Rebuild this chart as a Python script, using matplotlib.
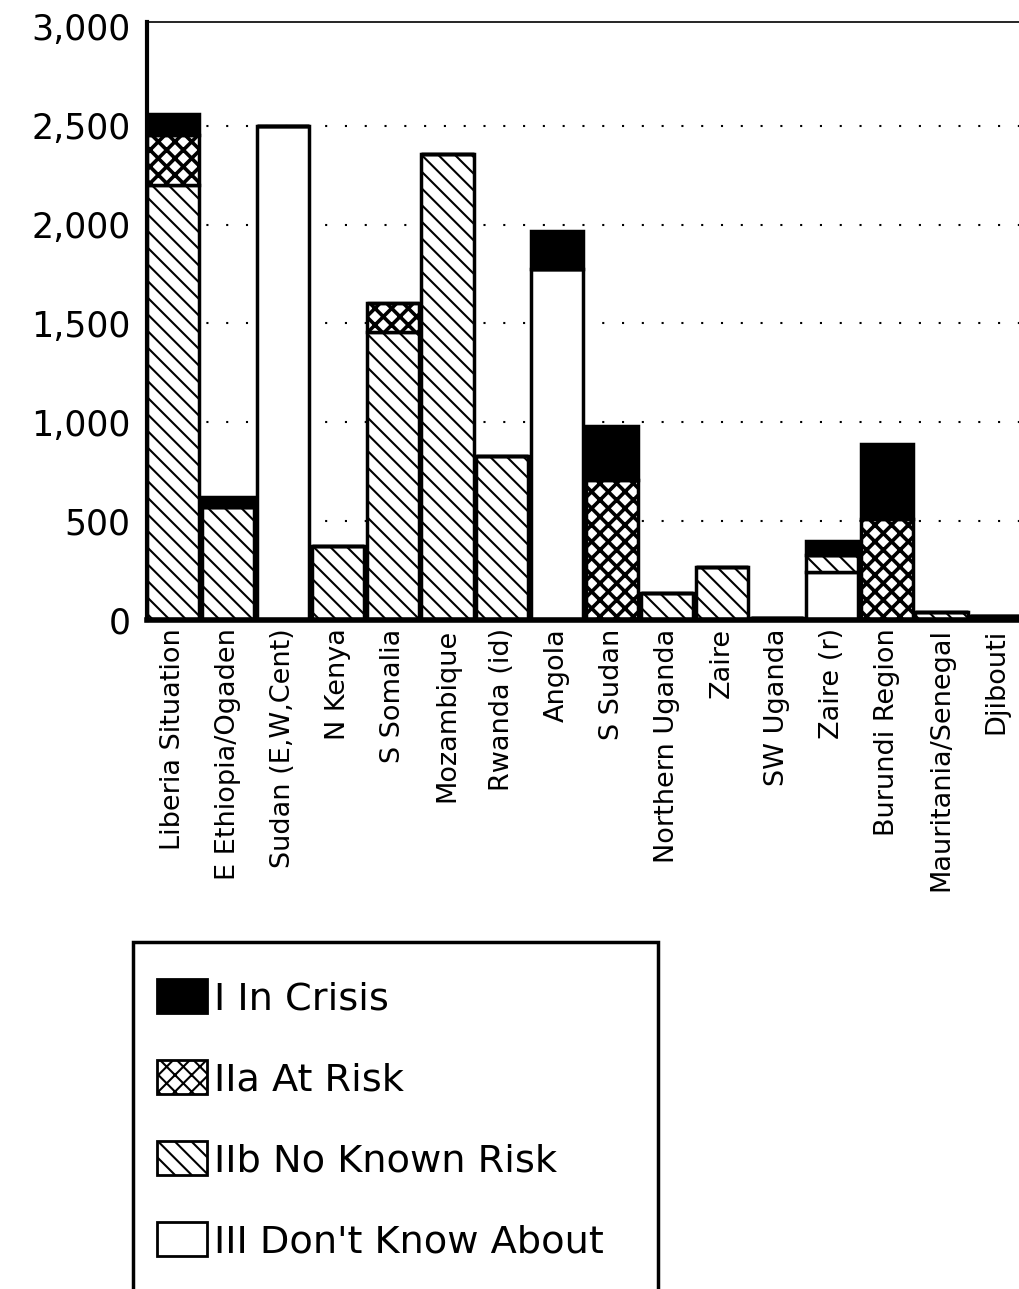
import numpy as np
import matplotlib
matplotlib.use('Agg')
import matplotlib.pyplot as plt
from matplotlib.patches import Patch, Rectangle

plt.rcParams['font.family'] = ['DejaVu Sans']
plt.rcParams['hatch.linewidth'] = 1.5

# Datos
regiones = ['Liberia Situation', 'E Ethiopia/Ogaden', 'Sudan (E,W,Cent)', 'N Kenya',
            'S Somalia', 'Mozambique', 'Rwanda (id)', 'Angola', 'S Sudan',
            'Northern Uganda', 'Zaire', 'SW Uganda', 'Zaire (r)', 'Burundi Region',
            'Mauritania/Senegal', 'Djibouti']
no_sabe = [0, 0, 2500, 0, 0, 0, 0, 1776, 0, 0, 0, 8, 244, 0, 0, 20]          # III
sin_riesgo = [2200, 572, 0, 375, 1456, 2357, 828, 0, 0, 135, 269, 0, 84, 0, 42, 0]  # IIb
en_riesgo = [254, 0, 0, 0, 148, 0, 0, 0, 707, 0, 0, 0, 0, 510, 0, 0]         # IIa
en_crisis = [108, 50, 0, 0, 0, 0, 0, 190, 274, 0, 0, 0, 72, 382, 0, 0]       # I

etiquetas = ['I In Crisis', 'IIa At Risk', 'IIb No Known Risk', "III Don't Know About"]

fig = plt.figure(figsize=(10.2, 12.89), dpi=100)
ax = fig.add_axes([0.1441, 0.519, 1.0 - 0.1441, 0.4639])

x = np.arange(len(regiones))
ancho = 0.95
estilo = dict(width=ancho, edgecolor='black', linewidth=2.5)

abajo = np.zeros(len(regiones))
ax.bar(x, no_sabe, bottom=abajo, color='white', **estilo)
abajo += np.array(no_sabe)
ax.bar(x, sin_riesgo, bottom=abajo, color='white', hatch='\\\\', **estilo)
abajo += np.array(sin_riesgo)
b = ax.bar(x, en_riesgo, bottom=abajo, color='white', hatch='xx', **estilo)
for p in b:
    if hasattr(p, 'set_hatch_linewidth'):
        p.set_hatch_linewidth(2.6)
abajo += np.array(en_riesgo)
ax.bar(x, en_crisis, bottom=abajo, color='black', **estilo)

ax.set_xlim(-0.475, 15.43)
ax.set_ylim(0, 3025)
ax.set_yticks([0, 500, 1000, 1500, 2000, 2500, 3000])
ax.set_yticklabels(['0', '500', '1,000', '1,500', '2,000', '2,500', '3,000'], fontsize=25)
ax.set_xticks(x)
ax.set_xticklabels(regiones, rotation=90, fontsize=19.5, va='top', ha='center')
ax.tick_params(axis='y', length=0, pad=12)
ax.tick_params(axis='x', length=0, pad=6)

ax.set_axisbelow(True)
ax.yaxis.grid(True, color='black', linestyle=(0, (1, 8.5)), linewidth=1.5)
lineas = ax.yaxis.get_gridlines()
lineas[0].set_visible(False)
lineas[-1].set_visible(False)

ax.spines['right'].set_visible(False)
ax.spines['left'].set_linewidth(3)
ax.spines['bottom'].set_linewidth(4)
ax.spines['top'].set_linewidth(1.2)

# Leyenda
manijas = [
    Patch(facecolor='black', edgecolor='black', linewidth=2),
    Patch(facecolor='white', edgecolor='black', hatch='xx', linewidth=2),
    Patch(facecolor='white', edgecolor='black', hatch='\\\\', linewidth=2),
    Patch(facecolor='white', edgecolor='black', linewidth=2),
]
fig.legend(manijas, etiquetas, loc='upper left', bbox_to_anchor=(0.1539, 0.2405),
           frameon=False, fontsize=27.5, handlelength=1.3, handleheight=1.0,
           handletextpad=0.2, labelspacing=1.12, borderpad=0, borderaxespad=0)

marco = Rectangle((0.1304, -0.02), 0.5147, 0.2692 + 0.02, transform=fig.transFigure,
                  fill=False, edgecolor='black', linewidth=2.5, clip_on=False)
fig.add_artist(marco)

fig.savefig('out.png', dpi=100)
